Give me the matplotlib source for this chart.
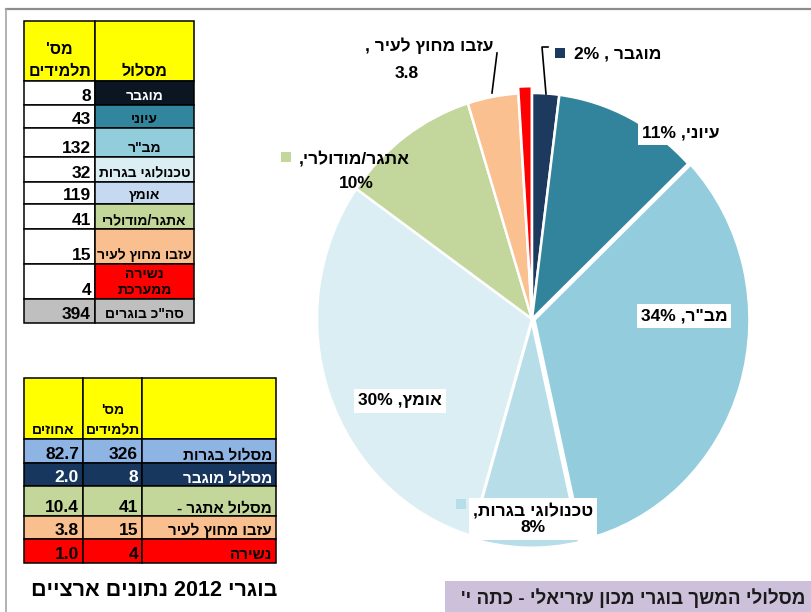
import re
import matplotlib
matplotlib.use("Agg")
import matplotlib.pyplot as plt
from matplotlib.patches import Rectangle

plt.rcParams['font.family'] = ['Liberation Sans', 'DejaVu Sans']

# ---------------- data ----------------
track_labels = ["מוגבר", "עיוני", "מב\"ר", "טכנולוגי בגרות", "אומץ",
                "אתגר/מודולרי", "עזבו מחוץ לעיר", "נשירה ממערכת"]
track_counts = [8, 43, 132, 32, 119, 41, 15, 4]
total_label = "סה\"כ בוגרים"
total_count = 394

pie_label_text = ["מוגבר , 2%", "עיוני, 11%", "מב\"ר, 34%", "טכנולוגי בגרות,\n8%",
                  "אומץ, 30%", "אתגר/מודולרי,\n10%", "עזבו מחוץ לעיר ,\n3.8", ""]

sum_labels = ["מסלול בגרות", "מסלול מוגבר", "מסלול אתגר -", "עזבו מחוץ לעיר", "נשירה"]
sum_counts = [326, 8, 41, 15, 4]
sum_pct = ["82.7", "2.0", "10.4", "3.8", "1.0"]

title_text = "בוגרי 2012 נתונים ארציים"
caption_text = "מסלולי המשך בוגרי מכון עזריאלי - כתה י'"
hdr_track = "מסלול"
hdr_count = "מס'\nתלמידים"
hdr_pct = "אחוזים"

# ---------------- styles ----------------
pie_colors = ['#1B3A5E', '#31849B', '#93CDDD', '#B7DEE8', '#DBEEF4',
              '#C3D69B', '#FAC090', '#FF0000']
t1_colors = ['#0C1622', '#31859C', '#92CDDC', '#DAEEF3', '#C5D9F1',
             '#C4D79B', '#FABF8F', '#FF0000']
t1_txtcol = ['white'] + ['black'] * 7
t2_colors = ['#8DB4E2', '#17375E', '#C4D79B', '#FABF8F', '#FF0000']
t2_txtcol = ['black', 'white', 'black', 'black', 'black']
YELLOW = '#FFFF00'


def rtl(s):
    """Convert a logical-order Hebrew string to visual (LTR) order."""
    lines = []
    for line in s.split("\n"):
        parts = re.findall(r'[0-9][0-9.%]*|[^0-9]+', line)
        out = []
        for p in reversed(parts):
            out.append(p if p[0].isdigit() else p[::-1])
        lines.append("".join(out))
    return "\n".join(lines)


W, H = 811, 612
fig = plt.figure(figsize=(W / 100, H / 100), dpi=100)

bg = fig.add_axes([0, 0, 1, 1], zorder=1)
bg.set_xlim(0, W)
bg.set_ylim(H, 0)
bg.axis('off')

# frame lines
bg.plot([6, W], [9, 9], color='#8C8C8C', lw=1.6)
bg.plot([6, 6], [9, H], color='#A6A6A6', lw=1.2)

# ---------------- table 1 ----------------
x_cols1 = [24, 95, 194]
y_rows1 = [21, 81, 105, 128, 157, 182, 204, 229, 264, 299, 323]
LW = 1.1


def cell(ax, x0, x1, y0, y1, fc):
    ax.add_patch(Rectangle((x0, y0), x1 - x0, y1 - y0, facecolor=fc,
                           edgecolor='black', lw=LW, zorder=2))
    return Rectangle((x0, y0), x1 - x0, y1 - y0, transform=ax.transData)


# header
cell(bg, x_cols1[0], x_cols1[1], y_rows1[0], y_rows1[1], YELLOW)
cell(bg, x_cols1[1], x_cols1[2], y_rows1[0], y_rows1[1], YELLOW)
bg.text((x_cols1[1] + x_cols1[2]) / 2, y_rows1[1] - 5, rtl(hdr_track), ha='center',
        va='baseline', fontsize=11.5, fontweight='bold', zorder=3)
h1, h2 = hdr_count.split("\n")
bg.text((x_cols1[0] + x_cols1[1]) / 2, y_rows1[1] - 27, rtl(h1), ha='center',
        va='baseline', fontsize=11.5, fontweight='bold', zorder=3)
bg.text((x_cols1[0] + x_cols1[1]) / 2, y_rows1[1] - 5, rtl(h2), ha='center',
        va='baseline', fontsize=11.5, fontweight='bold', zorder=3)

rows1 = list(zip(track_labels, track_counts, t1_colors, t1_txtcol))
rows1.append((total_label, total_count, '#BFBFBF', 'black'))
for i, (lab, cnt, col, tc) in enumerate(rows1):
    y0, y1 = y_rows1[i + 1], y_rows1[i + 2]
    numfc = '#BFBFBF' if i == len(rows1) - 1 else 'white'
    cell(bg, x_cols1[0], x_cols1[1], y0, y1, numfc)
    clip = cell(bg, x_cols1[1], x_cols1[2], y0, y1, col)
    bg.text(x_cols1[1] - 4, y1 - 4, str(cnt), ha='right', va='baseline',
            fontsize=12.5, fontweight='bold', zorder=3)
    if lab == "נשירה ממערכת":
        a, b = lab.split(" ")
        t = bg.text((x_cols1[1] + x_cols1[2]) / 2, y1 - 21, rtl(a), ha='center',
                    va='baseline', fontsize=10, fontweight='bold', color=tc, zorder=3)
        t.set_clip_path(clip)
        bg.text((x_cols1[1] + x_cols1[2]) / 2, y1 - 5, rtl(b), ha='center',
                va='baseline', fontsize=10, fontweight='bold', color=tc, zorder=3)
    else:
        bg.text((x_cols1[1] + x_cols1[2]) / 2, y1 - 5, rtl(lab), ha='center',
                va='baseline', fontsize=10, fontweight='bold', color=tc, zorder=3)

# ---------------- table 2 ----------------
x_cols2 = [24, 83, 142, 276]
y_rows2 = [378, 439, 463, 486, 516, 539, 563]
for j in range(3):
    cell(bg, x_cols2[j], x_cols2[j + 1], y_rows2[0], y_rows2[1], YELLOW)
bg.text((x_cols2[1] + x_cols2[2]) / 2, y_rows2[1] - 25, rtl(h1), ha='center',
        va='baseline', fontsize=10, fontweight='bold', zorder=3)
bg.text((x_cols2[1] + x_cols2[2]) / 2, y_rows2[1] - 5, rtl(h2), ha='center',
        va='baseline', fontsize=10, fontweight='bold', zorder=3)
bg.text((x_cols2[0] + x_cols2[1]) / 2, y_rows2[1] - 5, rtl(hdr_pct), ha='center',
        va='baseline', fontsize=10, fontweight='bold', zorder=3)

for i, (lab, cnt, pct) in enumerate(zip(sum_labels, sum_counts, sum_pct)):
    y0, y1 = y_rows2[i + 1], y_rows2[i + 2]
    for j in range(3):
        cell(bg, x_cols2[j], x_cols2[j + 1], y0, y1, t2_colors[i])
    tc = t2_txtcol[i]
    bg.text(x_cols2[1] - 4, y1 - 4, pct, ha='right', va='baseline',
            fontsize=12.5, fontweight='bold', color=tc, zorder=3)
    bg.text(x_cols2[2] - 4, y1 - 4, str(cnt), ha='right', va='baseline',
            fontsize=12.5, fontweight='bold', color=tc, zorder=3)
    bg.text(x_cols2[3] - 4, y1 - 4, rtl(lab), ha='right', va='baseline',
            fontsize=11, fontweight='bold', color=tc, zorder=3)

# ---------------- pie ----------------
cx, cy, rx, ry = 532, 319, 215, 226
lim = 1.1
pw, ph = rx * 2 * lim, ry * 2 * lim
pax = fig.add_axes([(cx - pw / 2) / W, (H - cy - ph / 2) / H, pw / W, ph / H], zorder=2)
explode = [0, 0, 0.012, 0.012, 0, 0, 0, 0.03]
pax.pie(track_counts, colors=pie_colors, startangle=90, counterclock=False,
        explode=explode, wedgeprops=dict(edgecolor='white', linewidth=1.8))
pax.set_xlim(-lim, lim)
pax.set_ylim(-lim, lim)
pax.set_aspect('auto')
pax.axis('off')

# ---------------- overlay (labels, title, caption) ----------------
ov = fig.add_axes([0, 0, 1, 1], zorder=3)
ov.set_xlim(0, W)
ov.set_ylim(H, 0)
ov.axis('off')
ov.patch.set_alpha(0)

LF = 12.5
box = dict(facecolor='white', edgecolor='none', pad=3)

# מוגבר
ov.plot([546, 542, 548], [94, 47, 47], color='black', lw=1.2)
ov.add_patch(Rectangle((555, 48), 10, 10, facecolor=pie_colors[0], edgecolor='none'))
ov.text(574, 54, rtl(pie_label_text[0]), ha='left', va='center', fontsize=LF, fontweight='bold')
# עזבו
ov.plot([492, 497], [93, 53], color='black', lw=1.2)
l1, l2 = pie_label_text[6].split("\n")
ov.text(493, 46, rtl(l1), ha='right', va='center', fontsize=LF, fontweight='bold')
ov.text(407, 73, rtl(l2), ha='center', va='center', fontsize=LF, fontweight='bold')
# עיוני
ov.text(681, 133, rtl(pie_label_text[1]), ha='center', va='center', fontsize=LF,
        fontweight='bold', bbox=box)
# אתגר
l1, l2 = pie_label_text[5].split("\n")
ov.add_patch(Rectangle((281, 152), 10, 10, facecolor=pie_colors[5], edgecolor='none'))
ov.text(410, 159, rtl(l1), ha='right', va='center', fontsize=LF, fontweight='bold')
ov.text(356, 184, rtl(l2), ha='center', va='center', fontsize=LF, fontweight='bold')
# מב"ר
ov.text(684, 316, rtl(pie_label_text[2]), ha='center', va='center', fontsize=LF,
        fontweight='bold', bbox=box)
# אומץ
ov.text(400, 401, rtl(pie_label_text[4]), ha='center', va='center', fontsize=LF,
        fontweight='bold', bbox=box)
# טכנולוגי
ov.add_patch(Rectangle((456, 499), 10, 10, facecolor=pie_colors[3], edgecolor='none'))
ov.text(533, 519, rtl(pie_label_text[3]), ha='center', va='center', fontsize=LF,
        fontweight='bold', linespacing=1.15, bbox=box, multialignment='center')

# title
ov.text(154, 590, rtl(title_text), ha='center', va='center', fontsize=15.5, fontweight='bold')

# caption box
ov.add_patch(Rectangle((445, 581), W - 445, H - 581, facecolor='#CCC0DA', edgecolor='none'))
ov.text(805, 598, rtl(caption_text), ha='right', va='center', fontsize=13.5,
        fontweight='bold', color='#1A1A1A')

fig.savefig("out.png", dpi=100)
